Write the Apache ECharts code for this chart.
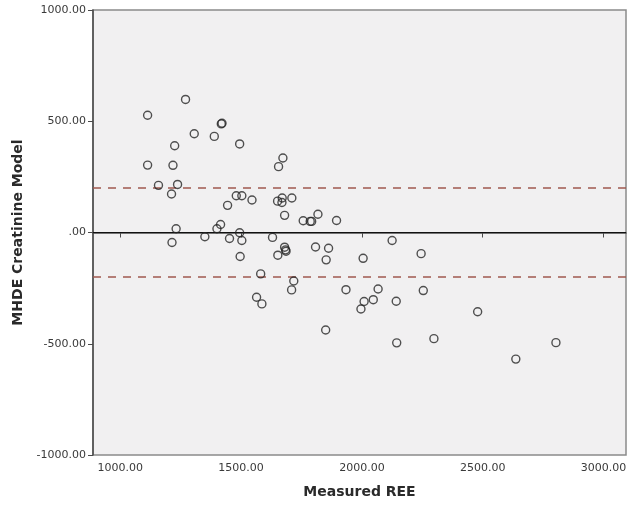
<!DOCTYPE html>
<html>
<head>
<meta charset="utf-8">
<script src="https://cdn.jsdelivr.net/npm/echarts@6/dist/echarts.min.js"></script>
<style>
  html, body { margin: 0; padding: 0; background: #fff; }
  #chart { width: 635px; height: 505px; }
</style>
</head>
<body>
<div id="chart"></div>
<script>
// Bland-Altman style: measured REE vs difference for the MHDE creatinine model
const measuredREE = [
  1113, 1270, 1418, 1421, 1306, 1389, 1494, 1225, 1113, 1218,
  1673, 1655, 1158, 1237, 1212, 1480, 1503, 1545, 1444, 1651,
  1670, 1669, 1710, 1680, 1415, 1400, 1231, 1494, 1350, 1452,
  1503, 1214, 1630, 1496, 1652, 1680, 1684, 1686, 1757, 1786,
  1792, 1818, 1895, 1808, 1862, 1852, 2005, 1581, 1718, 1709,
  1564, 1586, 1934, 2067, 2009, 2047, 1996, 1850, 2125, 2245,
  2254, 2142, 2479, 2144, 2298, 2803, 2637
];
const modelDiff = [
  527, 598, 488, 491, 444, 432, 398, 390, 303, 302,
  335, 296, 212, 216, 173, 165, 165, 146, 122, 141,
  155, 135, 155, 77, 36, 17, 17, -1, -19, -27,
  -36, -45, -22, -108, -102, -66, -78, -84, 53, 50,
  50, 82, 54, -65, -71, -123, -116, -186, -218, -258,
  -291, -321, -257, -254, -310, -302, -344, -438, -36, -95,
  -261, -309, -356, -496, -477, -495, -569
];
const xTicks = [1000, 1500, 2000, 2500, 3000];
const refLines = [0, 200, -200];

const fmt = (v) => (v === 0 ? '.00' : v.toFixed(2));
const labelFont = { color: '#3a3a3a', fontSize: 11, fontFamily: 'DejaVu Sans' };
const nameFont = { color: '#2a2a2a', fontSize: 14, fontWeight: 'bold', fontFamily: 'DejaVu Sans' };

const chart = echarts.init(document.getElementById('chart'));
chart.setOption({
  backgroundColor: '#ffffff',
  animation: false,
  grid: {
    left: 93, right: 9, top: 10, bottom: 50,
    show: true, backgroundColor: '#f1f0f1', borderColor: '#8a8a8a', borderWidth: 1.5
  },
  xAxis: {
    type: 'value',
    min: 887,
    max: 3093,
    name: 'Measured REE',
    nameLocation: 'middle',
    nameGap: 30,
    nameTextStyle: nameFont,
    axisLine: { lineStyle: { color: '#4a4a4a', width: 1.5 } },
    axisTick: { length: 5, lineStyle: { color: '#4a4a4a' }, customValues: xTicks },
    axisLabel: { ...labelFont, margin: 8, formatter: fmt, customValues: xTicks },
    splitLine: { show: false }
  },
  yAxis: {
    type: 'value',
    min: -1000,
    max: 1000,
    interval: 500,
    name: 'MHDE Creatinine Model',
    nameLocation: 'middle',
    nameGap: 66,
    nameTextStyle: nameFont,
    axisLine: { show: true, lineStyle: { color: '#4a4a4a', width: 1.5 } },
    axisTick: { show: true, length: 5, lineStyle: { color: '#4a4a4a' } },
    axisLabel: { ...labelFont, margin: 7, formatter: fmt },
    splitLine: { show: false }
  },
  series: [
    {
      type: 'scatter',
      symbol: 'circle',
      symbolSize: 8,
      itemStyle: { color: 'transparent', borderColor: '#262626', borderWidth: 1.4 },
      data: measuredREE.map((x, i) => [x, modelDiff[i]]),
      z: 5,
      markLine: {
        silent: true,
        symbol: 'none',
        label: { show: false },
        data: refLines.map((y) => ({
          yAxis: y,
          lineStyle: y === 0
            ? { color: '#111', width: 1.2, type: 'solid' }
            : { color: '#a0584f', width: 1.5, type: [8, 7] }
        }))
      }
    }
  ]
});
</script>
</body>
</html>
